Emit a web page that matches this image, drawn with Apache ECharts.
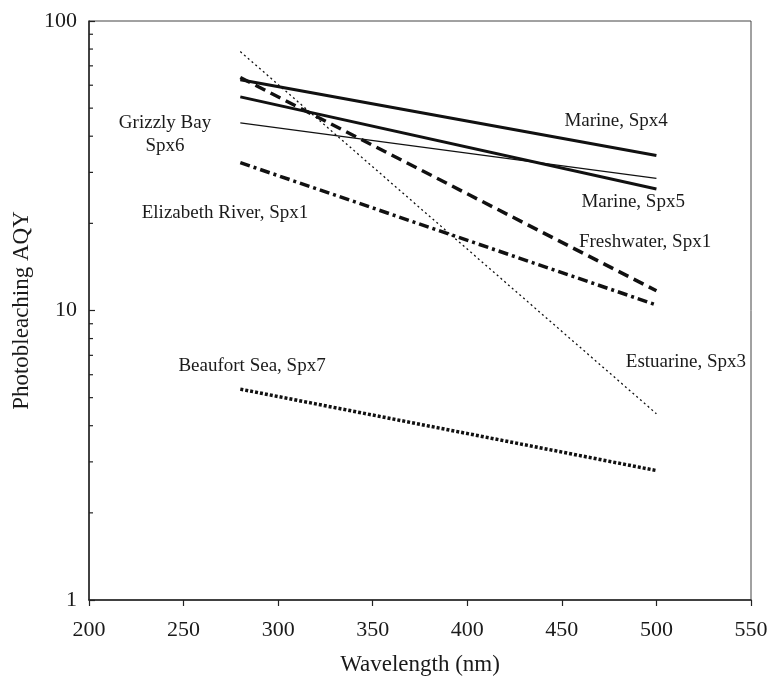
<!DOCTYPE html>
<html><head><meta charset="utf-8">
<script src="https://cdn.jsdelivr.net/npm/echarts@6/dist/echarts.min.js"></script>
<style>html,body{margin:0;padding:0;background:#fff}#c{width:771px;height:681px}</style>
</head><body><div id="c"></div>
<script>
// Wavelength endpoints (nm)
const wavelengths = [280, 500];
// Series values (AQY) at 280 and 500 nm
const marineSpx4 = [62.7, 34.3];
const marineSpx5 = [54.7, 26.3];
const grizzlyBaySpx6 = [44.5, 28.6];
const freshwaterSpx1 = [63.8, 11.7];
const elizabethRiverSpx1 = [32.4, 10.45];
const estuarineSpx3 = [78.4, 4.4];
const beaufortSeaSpx7 = [5.35, 2.8];
// Minor log ticks
const minorTicks = [2,3,4,5,6,7,8,9,20,30,40,50,60,70,80,90];
// Annotation labels [text, wavelength, AQY]
const annotations = [
  ['Grizzly Bay\nSpx6', 240.2, 40.6],
  ['Elizabeth River, Spx1', 271.9, 21.7],
  ['Marine, Spx4', 478.7, 45.0],
  ['Marine, Spx5', 487.7, 23.7],
  ['Freshwater, Spx1', 494, 17.3],
  ['Estuarine, Spx3', 515.6, 6.63],
  ['Beaufort Sea, Spx7', 286.2, 6.42]
];

const FONT = '"Liberation Serif","Times New Roman",serif';
const INK = '#1a1a1a';
function pts(vals){ return wavelengths.map((w,i)=>[w, vals[i]]); }
function lineSeries(name, vals, width, type){
  return {name, type:'line', data: pts(vals), symbol:'none', silent:true,
    lineStyle:{color:'#111', width, type}, z:3};
}

const chart = echarts.init(document.getElementById('c'), null, {renderer:'canvas'});
chart.setOption({
  animation:false,
  backgroundColor:'#fff',
  grid:{left:89, right:20, top:21, bottom:77, show:true, borderColor:'#444', borderWidth:1},
  xAxis:{type:'value', min:200, max:550, interval:50,
    name:'Wavelength (nm)', nameLocation:'middle', nameGap:53,
    nameTextStyle:{fontFamily:FONT, fontSize:23, color:INK},
    axisLine:{show:true, onZero:false, lineStyle:{color:'#222', width:1.5}},
    axisTick:{show:true, inside:false, length:6, lineStyle:{color:'#222', width:1.2}},
    axisLabel:{fontFamily:FONT, fontSize:22, color:INK, margin:19},
    splitLine:{show:false}},
  yAxis:{type:'log', logBase:10, min:1, max:100,
    name:'Photobleaching AQY', nameLocation:'middle', nameGap:56,
    nameTextStyle:{fontFamily:FONT, fontSize:23, color:INK},
    axisLine:{show:true, lineStyle:{color:'#222', width:1.5}},
    axisTick:{show:true, inside:true, length:6, lineStyle:{color:'#222', width:1.2}},
    axisLabel:{fontFamily:FONT, fontSize:22, color:INK, margin:12},
    splitLine:{show:false}, minorTick:{show:false}},
  series:[
    lineSeries('Marine, Spx4', marineSpx4, 3, 'solid'),
    lineSeries('Marine, Spx5', marineSpx5, 3, 'solid'),
    lineSeries('Grizzly Bay Spx6', grizzlyBaySpx6, 1.2, 'solid'),
    lineSeries('Freshwater, Spx1', freshwaterSpx1, 3.5, [11,6]),
    lineSeries('Elizabeth River, Spx1', elizabethRiverSpx1, 3.5, [10,4,3,4]),
    lineSeries('Estuarine, Spx3', estuarineSpx3, 1.3, [2,3]),
    lineSeries('Beaufort Sea, Spx7', beaufortSeaSpx7, 3.5, [3,2]),
    {type:'custom', silent:true, data: minorTicks.map(v=>[200, v]),
      renderItem:function(params, api){
        const p = api.coord([api.value(0), api.value(1)]);
        return {type:'line', shape:{x1:p[0], y1:p[1], x2:p[0]+4, y2:p[1]},
          style:{stroke:'#222', lineWidth:1.2}};
      }, z:4},
    {type:'scatter', silent:true, symbolSize:0,
      itemStyle:{opacity:1},
      data: annotations.map(a=>({value:[a[1], a[2]], name:a[0]})),
      label:{show:true, position:'inside', formatter:p=>p.name, opacity:1,
        fontFamily:FONT, fontSize:19, color:INK, lineHeight:23, align:'center'}, z:5}
  ]
});
</script></body></html>
